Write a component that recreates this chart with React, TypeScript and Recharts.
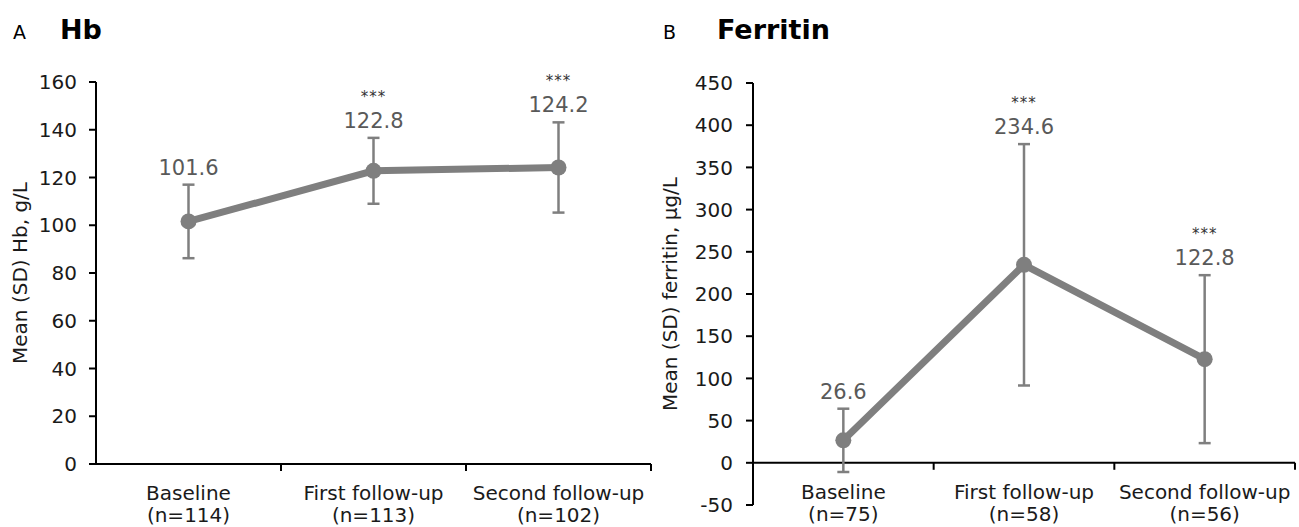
import {
  LineChart,
  Line,
  XAxis,
  YAxis,
  ErrorBar,
  LabelList,
  ReferenceLine,
  ReferenceDot,
} from "recharts";

const categories = ["Baseline", "First follow-up", "Second follow-up"];
const bandEdges = [1, 2, 3];

// panel A - Hb
const hbN = [114, 113, 102];
const hbMean = [101.6, 122.8, 124.2];
const hbSd = [15.4, 13.8, 18.9];
const hbStars = ["", "***", "***"];
const hbTicks = [0, 20, 40, 60, 80, 100, 120, 140, 160];

// panel B - ferritin
const ferN = [75, 58, 56];
const ferMean = [26.6, 234.6, 122.8];
const ferSd = [37.5, 143.0, 99.5];
const ferStars = ["", "***", "***"];
const ferTicks = [-50, 0, 50, 100, 150, 200, 250, 300, 350, 400, 450];

const FONT = "DejaVu Sans";
const GREY = "#7f7f7f";

const buildRows = (n: number[], mean: number[], sd: number[], stars: string[]) =>
  categories.map((name, i) => ({
    x: i + 0.5,
    name,
    n: n[i],
    mean: mean[i],
    sd: sd[i],
    upper: mean[i] + sd[i],
    stars: stars[i],
  }));

type Row = ReturnType<typeof buildRows>[number];

const Panel = ({
  rows,
  ticks,
  yLabel,
  width,
  yAxisWidth,
  top,
  bottom,
  labelOffset,
  tickMargin,
}: {
  rows: Row[];
  ticks: number[];
  yLabel: string;
  width: number;
  yAxisWidth: number;
  top: number;
  bottom: number;
  labelOffset: number;
  tickMargin: number;
}) => {
  const renderValue = (props: any) => {
    const { x, y, value, index } = props;
    const row = rows[index];
    return (
      <g>
        <text
          x={x}
          y={y - 10}
          textAnchor="middle"
          fontFamily={FONT}
          fontSize={21}
          fill="#595959"
        >
          {Number(value).toFixed(1)}
        </text>
        {row.stars && (
          <text
            x={x}
            y={y - 36}
            textAnchor="middle"
            fontFamily={FONT}
            fontSize={15}
            letterSpacing={1}
            fill="#333"
          >
            {row.stars}
          </text>
        )}
      </g>
    );
  };

  return (
    <LineChart
      width={width}
      height={527}
      data={rows}
      margin={{ top, right: 4, left: 0, bottom }}
    >
      <XAxis type="number" dataKey="x" domain={[0, 3]} hide />
      <YAxis
        type="number"
        domain={[ticks[0], ticks[ticks.length - 1]]}
        ticks={ticks}
        width={yAxisWidth}
        axisLine={{ stroke: "#000", strokeWidth: 2 }}
        tickLine={{ stroke: "#000", strokeWidth: 2 }}
        tickSize={7}
        tickMargin={tickMargin}
        tick={{ fill: "#1a1a1a", fontSize: 20, fontFamily: FONT }}
        label={{
          value: yLabel,
          angle: -90,
          position: "insideLeft",
          offset: labelOffset,
          style: { textAnchor: "middle", fontFamily: FONT, fontSize: 20, fill: "#1a1a1a" },
        }}
      />
      <ReferenceLine y={0} stroke="#000" strokeWidth={2} />
      {bandEdges.map((edge) => (
        <ReferenceDot
          key={`edge-${edge}`}
          x={edge}
          y={0}
          r={0}
          shape={(p: any) => (
            <line x1={p.cx} y1={p.cy} x2={p.cx} y2={p.cy + 7} stroke="#000" strokeWidth={2} />
          )}
        />
      ))}
      {rows.map((row) => (
        <ReferenceDot
          key={`cat-${row.name}`}
          x={row.x}
          y={0}
          r={0}
          shape={(p: any) => (
            <g fontFamily={FONT} fontSize={20} fill="#1a1a1a" textAnchor="middle">
              <text x={p.cx} y={p.cy + 36}>{row.name}</text>
              <text x={p.cx} y={p.cy + 58}>{`(n=${row.n})`}</text>
            </g>
          )}
        />
      ))}
      <Line
        type="linear"
        dataKey="mean"
        stroke={GREY}
        strokeWidth={7}
        dot={{ r: 8, fill: GREY, stroke: "none" }}
        activeDot={false}
        isAnimationActive={false}
      >
        <ErrorBar dataKey="sd" width={6} stroke={GREY} strokeWidth={2.5} direction="y" />
      </Line>
      <Line
        type="linear"
        dataKey="upper"
        stroke="none"
        dot={false}
        activeDot={false}
        legendType="none"
        isAnimationActive={false}
      >
        <LabelList dataKey="mean" content={renderValue} />
      </Line>
    </LineChart>
  );
};

const App = () => {
  const hbRows = buildRows(hbN, hbMean, hbSd, hbStars);
  const ferRows = buildRows(ferN, ferMean, ferSd, ferStars);

  return (
    <div style={{ position: "absolute", left: 0, top: 0, width: 1299, height: 527, background: "#fff" }}>
      <div style={{ position: "absolute", left: 0, top: 0 }}>
        <Panel
          rows={hbRows}
          ticks={hbTicks}
          yLabel="Mean (SD) Hb, g/L"
          width={655}
          yAxisWidth={96}
          top={82}
          bottom={63}
          labelOffset={20}
          tickMargin={12}
        />
      </div>
      <div style={{ position: "absolute", left: 655, top: 0 }}>
        <Panel
          rows={ferRows}
          ticks={ferTicks}
          yLabel="Mean (SD) ferritin, µg/L"
          width={644}
          yAxisWidth={98}
          top={83}
          bottom={22}
          labelOffset={15}
          tickMargin={13}
        />
      </div>
      <svg
        width={1299}
        height={60}
        style={{ position: "absolute", left: 0, top: 0, pointerEvents: "none" }}
      >
        <text x={13} y={39} fontFamily={FONT} fontSize={19} fill="#000">A</text>
        <text x={60} y={39} fontFamily={FONT} fontSize={27} fontWeight="bold" fill="#000">Hb</text>
        <text x={663} y={39} fontFamily={FONT} fontSize={19} fill="#000">B</text>
        <text x={717} y={39} fontFamily={FONT} fontSize={27} fontWeight="bold" fill="#000">Ferritin</text>
      </svg>
    </div>
  );
};

export default App;
